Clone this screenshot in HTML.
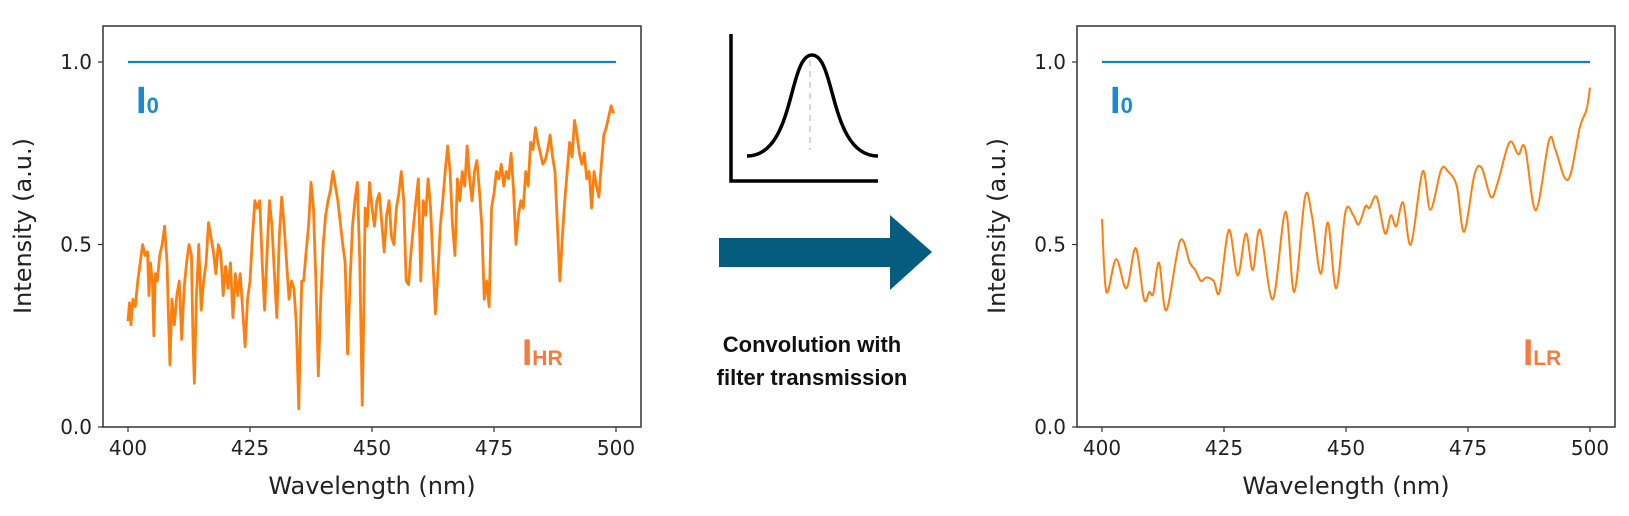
<!DOCTYPE html>
<html><head><meta charset="utf-8">
<style>
html,body{margin:0;padding:0;background:#fff;}
svg{display:block;font-family:"DejaVu Sans","Liberation Sans",sans-serif;}
</style></head>
<body>
<svg id="fig" width="1629" height="516" viewBox="0 0 1629 516" xmlns="http://www.w3.org/2000/svg">
  <g id="left"></g>
  <g id="right"></g>
  <g>
    <path d="M731 34 V181 H878" fill="none" stroke="#000" stroke-width="3.5"/>
    <line x1="810" y1="60" x2="810" y2="150" stroke="#ccc" stroke-width="1.5" stroke-dasharray="6,5"/>
    <path d="M747 156 C795 156 788 55 812 55 C836 55 829 156 878 156" fill="none" stroke="#000" stroke-width="3.5"/>
  </g>
  <path d="M719 238 H890 V215 L932 252 L890 290 V267 H719 Z" fill="#045c7e"/>
  <text x="812" y="352" text-anchor="middle" font-family="Liberation Sans, sans-serif" font-weight="bold" font-size="22" fill="#111">Convolution with</text>
  <text x="812" y="385" text-anchor="middle" font-family="Liberation Sans, sans-serif" font-weight="bold" font-size="22" fill="#111">filter transmission</text>
</svg>
<script>
// Data
const hrWavelength = [400,400.3,400.6,401,401.5,402,402.5,403,403.5,404,404.3,404.6,405,405.3,405.6,406,406.5,407,407.5,408,408.3,408.6,409,409.5,410,410.5,411,411.5,412,412.5,413,413.3,413.6,414,414.5,415,415.5,416,416.5,417,417.5,418,418.5,419,419.5,420,420.5,421,421.5,422,422.5,423,423.5,424,424.5,425,425.5,426,426.5,427,427.5,428,428.5,429,429.5,430,430.5,431,431.5,432,432.5,433,433.5,434,434.5,435,435.3,435.6,436,436.5,437,437.5,438,438.5,439,439.5,440,440.5,441,441.5,442,442.5,443,443.5,444,444.5,445,445.5,446,446.5,447,447.5,448,448.3,448.6,449,449.5,450,450.5,451,451.5,452,452.5,453,453.5,454,454.5,455,455.5,456,456.5,457,457.5,458,458.5,459,459.5,460,460.5,461,461.5,462,462.5,463,463.5,464,464.5,465,465.5,466,466.5,467,467.5,468,468.5,469,469.5,470,470.5,471,471.5,472,472.5,473,473.5,474,474.5,475,475.5,476,476.5,477,477.5,478,478.5,479,479.5,480,480.5,481,481.5,482,482.5,483,483.5,484,484.5,485,485.5,486,486.5,487,487.5,488,488.5,489,489.5,490,490.5,491,491.5,492,492.5,493,493.5,494,494.5,495,495.5,496,496.5,497,497.5,498,498.5,499,499.5,500];
const hrIntensity = [0.29,0.34,0.28,0.35,0.33,0.40,0.45,0.50,0.47,0.48,0.36,0.45,0.40,0.25,0.42,0.40,0.47,0.50,0.55,0.45,0.30,0.17,0.35,0.28,0.36,0.40,0.24,0.38,0.45,0.50,0.47,0.25,0.12,0.35,0.50,0.32,0.40,0.45,0.56,0.52,0.48,0.42,0.50,0.48,0.36,0.44,0.38,0.45,0.30,0.42,0.36,0.42,0.32,0.22,0.35,0.40,0.52,0.62,0.60,0.62,0.45,0.32,0.48,0.62,0.55,0.42,0.30,0.52,0.63,0.55,0.45,0.35,0.40,0.38,0.28,0.05,0.25,0.40,0.40,0.48,0.55,0.67,0.60,0.40,0.14,0.35,0.50,0.58,0.62,0.65,0.70,0.66,0.62,0.56,0.50,0.45,0.20,0.40,0.55,0.62,0.67,0.45,0.06,0.30,0.60,0.55,0.67,0.60,0.55,0.62,0.64,0.56,0.48,0.58,0.62,0.52,0.50,0.60,0.64,0.70,0.62,0.40,0.39,0.48,0.55,0.62,0.68,0.40,0.62,0.58,0.68,0.60,0.45,0.31,0.42,0.55,0.62,0.70,0.77,0.70,0.55,0.47,0.68,0.62,0.70,0.66,0.77,0.68,0.62,0.70,0.73,0.65,0.55,0.35,0.40,0.33,0.60,0.64,0.70,0.68,0.72,0.66,0.70,0.68,0.75,0.65,0.50,0.58,0.62,0.60,0.70,0.66,0.78,0.76,0.82,0.78,0.75,0.72,0.73,0.76,0.80,0.74,0.70,0.55,0.40,0.52,0.62,0.70,0.78,0.74,0.84,0.80,0.75,0.72,0.75,0.68,0.70,0.60,0.70,0.66,0.63,0.72,0.80,0.82,0.85,0.88,0.86];
const lrWavelength = [400,400.9,402.9,405,406.9,408.6,409.7,410.5,411.7,413.2,416,418,419.1,420.3,421.4,422.9,424.1,426,427.8,429.5,430.9,432.4,435,437.6,439.4,441.6,443,444.8,446.3,448,449.9,451.5,452.6,454,454.8,456.3,458,459.2,460.3,461.7,463.3,465.7,467.3,469.5,470.9,472.7,474.2,476.3,477.8,479.7,481.1,483.5,485.3,486.7,488.9,491.6,492.9,494.8,496.1,497.9,499.3,500];
const lrIntensity = [0.57,0.37,0.46,0.38,0.49,0.35,0.37,0.365,0.45,0.32,0.51,0.45,0.43,0.40,0.41,0.40,0.37,0.54,0.415,0.53,0.43,0.54,0.35,0.59,0.37,0.63,0.58,0.42,0.56,0.38,0.59,0.58,0.555,0.605,0.60,0.63,0.53,0.58,0.55,0.615,0.50,0.70,0.595,0.705,0.70,0.66,0.535,0.69,0.71,0.63,0.67,0.78,0.747,0.765,0.594,0.785,0.76,0.683,0.696,0.82,0.87,0.93];
const xTicks = [400,425,450,475,500];
const yTicks = [0.0,0.5,1.0];
const yTickLabels = ["0.0","0.5","1.0"];
const referenceLevel = [1.0,1.0];

const NS = "http://www.w3.org/2000/svg";
function mk(tag, attrs, parent){
  const e = document.createElementNS(NS, tag);
  for (const k in attrs) e.setAttribute(k, attrs[k]);
  parent.appendChild(e);
  return e;
}

function drawPanel(g, left, wl, vals, smooth, lbl, lblX){
  const right = left + 538, top = 26, bottom = 427;
  const xs = v => left + 25 + (v - 400) * 4.88;
  const ys = v => 427 - v * 365;

  const ref = mk('polyline', {points: [400,500].map((w,i)=>xs(w)+','+ys(referenceLevel[i])).join(' '), fill:'none', stroke:'#0a86cc', 'stroke-width':2.2}, g);
  
  

  let d;
  const pts = wl.map((w,i)=>[xs(w), ys(vals[i])]);
  if (smooth){
    d = 'M' + pts[0][0] + ' ' + pts[0][1];
    for (let i=0;i<pts.length-1;i++){
      const p0 = pts[Math.max(0,i-1)], p1 = pts[i], p2 = pts[i+1], p3 = pts[Math.min(pts.length-1,i+2)];
      const c1x = p1[0] + (p2[0]-p0[0])/6, c1y = p1[1] + (p2[1]-p0[1])/6;
      const c2x = p2[0] - (p3[0]-p1[0])/6, c2y = p2[1] - (p3[1]-p1[1])/6;
      d += ' C'+c1x+' '+c1y+' '+c2x+' '+c2y+' '+p2[0]+' '+p2[1];
    }
  } else {
    d = 'M' + pts.map(p=>p[0]+' '+p[1]).join(' L');
  }
  const line = mk('path', {d:d, fill:'none', stroke:'#ff7f0e', 'stroke-width': smooth?2:2.8, 'stroke-linejoin':'round'}, g);
  
  

  const frame = mk('rect', {x:left, y:top, width:right-left, height:bottom-top, fill:'none', stroke:'#333', 'stroke-width':1.5}, g);
  
  

  xTicks.forEach(t=>{
    const tk = mk('line', {x1:xs(t), x2:xs(t), y1:bottom, y2:bottom+5, stroke:'#333', 'stroke-width':1.2}, g);
    
    
    const tl = mk('text', {x:xs(t), y:bottom+28, 'text-anchor':'middle', 'font-size':20, fill:'#222'}, g);
    tl.textContent = String(t);
    
    
  });
  yTicks.forEach((t,i)=>{
    const tk = mk('line', {x1:left-5, x2:left, y1:ys(t), y2:ys(t), stroke:'#333', 'stroke-width':1.2}, g);
    
    
    const tl = mk('text', {x:left-11, y:ys(t)+7, 'text-anchor':'end', 'font-size':20, fill:'#222'}, g);
    tl.textContent = yTickLabels[i];
    
    
  });
  const xt = mk('text', {x:(left+right)/2, y:494, 'text-anchor':'middle', 'font-size':24, fill:'#222'}, g);
  xt.textContent = 'Wavelength (nm)';
  
  
  const yt = mk('text', {x:0, y:0, 'text-anchor':'middle', 'font-size':24, fill:'#222', transform:'translate('+(left-72)+',226) rotate(-90)'}, g);
  yt.textContent = 'Intensity (a.u.)';
  
  

  const i0 = mk('text', {x:left+33, y:113, 'font-family':'Liberation Sans, sans-serif', 'font-weight':'bold', 'font-size':38, fill:'#1a8bd2'}, g);
  i0.innerHTML = 'I<tspan font-size="22">0</tspan>';
  
  
  const il = mk('text', {x:lblX, y:365, 'font-family':'Liberation Sans, sans-serif', 'font-weight':'bold', 'font-size':37, fill:'#f77b3c'}, g);
  il.innerHTML = 'I<tspan font-size="21">' + lbl + '</tspan>';
  
  
}

drawPanel(document.getElementById('left'), 103, hrWavelength, hrIntensity, false, 'HR', 522);
drawPanel(document.getElementById('right'), 1077, lrWavelength, lrIntensity, true, 'LR', 1523);
</script>
</body></html>
